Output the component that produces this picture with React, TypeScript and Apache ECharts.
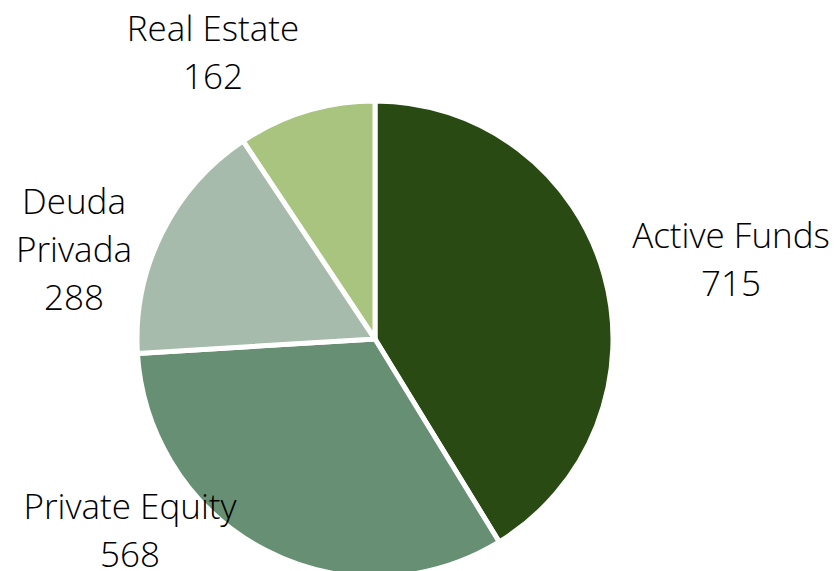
import React, { useEffect, useRef } from "react";
import * as echarts from "echarts";

const categories = ["Active Funds", "Private Equity", "Deuda Privada", "Real Estate"];
const values = [715, 568, 288, 162];
const labelNames = ["Active Funds", "Private Equity", "Deuda\nPrivada", "Real Estate"];
const colors = ["#294a12", "#668f73", "#a6bbab", "#a9c47f"];
// label block centres (text placement, not marks)
const labelPos = [
  [731, 258],
  [130, 529],
  [74, 248],
  [213, 51],
];

export default function App() {
  const ref = useRef<HTMLDivElement>(null);
  useEffect(() => {
    if (!ref.current) return;
    const chart = echarts.init(ref.current, null, { renderer: "svg" });
    chart.setOption({
      animation: false,
      backgroundColor: "#ffffff",
      series: [
        {
          type: "pie",
          center: [375, 339],
          radius: 238,
          startAngle: 90,
          clockwise: true,
          avoidLabelOverlap: false,
          data: categories.map((c, i) => ({
            name: c,
            value: values[i],
            itemStyle: { color: colors[i] },
            label: { formatter: labelNames[i] + "\n" + values[i] },
          })),
          itemStyle: { borderColor: "#ffffff", borderWidth: 5 },
          label: {
            show: true,
            position: "outside",
            color: "#000000",
            fontFamily: "Open Sans",
            fontWeight: 300,
            fontSize: 35,
            lineHeight: 48,
            align: "center",
          },
          labelLine: { show: false },
          labelLayout: (p: any) => {
            const pos = labelPos[p.dataIndex];
            return { x: pos[0], y: pos[1], align: "center", verticalAlign: "middle" };
          },
          emphasis: { disabled: true },
        },
      ],
    });
    return () => chart.dispose();
  }, []);
  return (
    <div
      ref={ref}
      style={{ position: "absolute", left: 0, top: 0, width: 839, height: 571 }}
    />
  );
}
